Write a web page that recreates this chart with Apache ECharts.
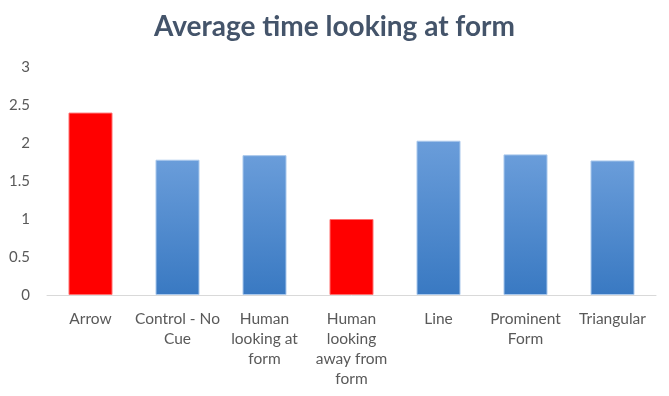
<!DOCTYPE html>
<html>
<head>
<meta charset="utf-8">
<script src="https://cdn.jsdelivr.net/npm/echarts@6/dist/echarts.min.js"></script>
<style>
html, body { margin: 0; padding: 0; background: #fff; }
#chart { width: 669px; height: 396px; }
</style>
</head>
<body>
<div id="chart"></div>
<script>
var categories = ['Arrow', 'Control - No\nCue', 'Human\nlooking at\nform', 'Human\nlooking\naway from\nform', 'Line', 'Prominent\nForm', 'Triangular'];
var values = [2.4, 1.78, 1.84, 1.0, 2.03, 1.85, 1.77];
var highlighted = [true, false, false, true, false, false, false];

var blueFill = new echarts.graphic.LinearGradient(0, 0, 0, 1, [
    { offset: 0, color: '#6A9DDA' },
    { offset: 1, color: '#3979C2' }
]);

var chart = echarts.init(document.getElementById('chart'));
chart.setOption({
    animation: false,
    title: {
        text: 'Average time looking at form',
        left: 'center',
        top: 8,
        textStyle: { fontFamily: 'Lato', fontSize: 28, fontWeight: 'bold', color: '#44546A' }
    },
    grid: { left: 47, right: 13, top: 67, bottom: 101 },
    xAxis: {
        type: 'category',
        data: categories,
        axisLine: { lineStyle: { color: '#D9D9D9', width: 1 } },
        axisTick: { show: false },
        axisLabel: {
            interval: 0,
            margin: 14,
            color: '#595959',
            fontFamily: 'Lato',
            fontSize: 15.5,
            lineHeight: 20
        }
    },
    yAxis: {
        type: 'value',
        min: 0,
        max: 3,
        interval: 0.5,
        splitLine: { show: false },
        axisLine: { show: false },
        axisTick: { show: false },
        axisLabel: { color: '#595959', fontFamily: 'Lato', fontSize: 15, margin: 17 }
    },
    series: [{
        type: 'bar',
        barWidth: 44,
        data: values.map(function (v, i) {
            return {
                value: v,
                itemStyle: highlighted[i]
                    ? { color: '#FF0000', borderColor: '#FF6F6F', borderWidth: 1 }
                    : { color: blueFill, borderColor: '#A9C8EC', borderWidth: 1 }
            };
        })
    }]
});
</script>
</body>
</html>
